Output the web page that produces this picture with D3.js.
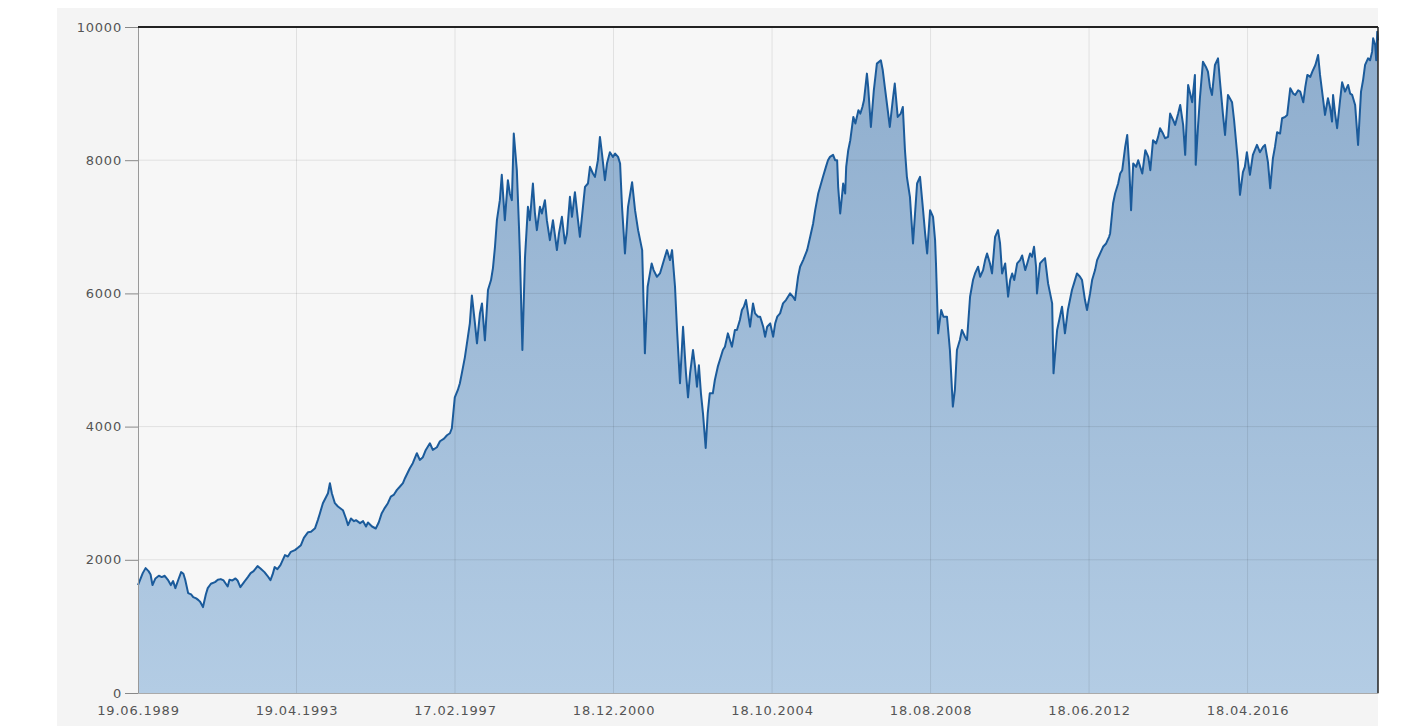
<!DOCTYPE html>
<html>
<head>
<meta charset="utf-8">
<script src="https://cdn.jsdelivr.net/npm/d3@7"></script>
<style>
  body { margin: 0; background: #fff; }
  .axis text { font-family: "DejaVu Sans", Verdana, sans-serif; font-size: 13px; fill: #555; letter-spacing: 0.8px; }
</style>
</head>
<body>
<div class="graph"></div>
<script>
// index closes (date, value)
var idx1989 = [
  ["1989-06-19",1620],["1989-07-31",1800],["1989-08-25",1875],["1989-09-20",1830],["1989-10-08",1780],["1989-10-25",1620],["1989-11-20",1720],["1989-12-20",1760],
  ["1990-01-15",1740],["1990-02-10",1760],["1990-03-10",1700],["1990-04-05",1620],["1990-04-25",1680],["1990-05-15",1575],["1990-06-10",1700],["1990-07-05",1815],["1990-07-25",1790],["1990-08-10",1700],["1990-09-05",1500],["1990-10-01",1480],["1990-10-20",1440],["1990-11-15",1420],["1990-12-05",1395],["1990-12-20",1370],
  ["1991-01-14",1290],["1991-02-08",1480],["1991-02-25",1575],["1991-03-25",1640],["1991-04-30",1665],["1991-05-25",1700],["1991-06-20",1710],["1991-07-15",1690],["1991-08-20",1600],["1991-09-05",1700],["1991-10-01",1690],["1991-10-28",1720],["1991-11-15",1690],["1991-12-10",1590],
  ["1992-01-10",1660],["1992-01-27",1700],["1992-02-14",1740],["1992-03-10",1800],["1992-04-05",1830],["1992-05-10",1905],["1992-06-05",1870],["1992-07-10",1815],["1992-08-05",1760],["1992-09-01",1695],["1992-09-20",1780],["1992-10-08",1890],["1992-11-01",1860],["1992-11-28",1920],
  ["1993-01-07",2070],["1993-02-02",2050],["1993-02-28",2120],["1993-04-05",2145],["1993-05-01",2180],["1993-05-28",2220],["1993-06-23",2330],["1993-07-30",2415],["1993-08-25",2420],["1993-09-30",2475],["1993-10-25",2600],["1993-11-12",2700],["1993-12-08",2850]
];
var idx1994 = [
  ["1994-01-04",2940],["1994-01-22",3000],["1994-02-08",3150],["1994-02-25",3000],["1994-03-24",2850],["1994-04-20",2800],["1994-06-03",2745],["1994-06-30",2620],["1994-07-18",2520],["1994-08-13",2620],["1994-09-09",2580],["1994-09-26",2595],["1994-11-01",2550],["1994-11-28",2580],["1994-12-24",2500],
  ["1995-01-10",2560],["1995-02-15",2500],["1995-03-20",2470],["1995-04-15",2560],["1995-05-12",2700],["1995-06-08",2780],["1995-07-05",2850],["1995-07-31",2950],["1995-08-28",2980],["1995-09-23",3050],["1995-10-20",3100],["1995-11-15",3150],["1995-12-03",3225],
  ["1996-01-15",3375],["1996-02-10",3450],["1996-03-17",3600],["1996-04-12",3500],["1996-05-09",3540],["1996-06-04",3650],["1996-07-10",3750],["1996-08-05",3650],["1996-09-10",3690],["1996-10-07",3780],["1996-11-12",3820],["1996-12-08",3870],
  ["1997-01-03",3900],["1997-01-20",3975],["1997-02-15",4440],["1997-03-14",4550],["1997-04-01",4650],["1997-04-18",4800],["1997-05-15",5040],["1997-06-10",5340],["1997-06-28",5550],["1997-07-16",5970],["1997-08-12",5550],["1997-08-30",5250],["1997-09-25",5700],["1997-10-13",5850],["1997-11-08",5295],["1997-12-05",6050],
  ["1998-01-01",6200],["1998-01-18",6380],["1998-02-05",6700],["1998-02-22",7100],["1998-03-20",7400],["1998-04-06",7780],["1998-05-03",7100],["1998-05-30",7700],["1998-06-16",7500],["1998-07-04",7400],["1998-07-21",8400],["1998-08-17",7850],["1998-09-05",7000],["1998-09-13",6600],["1998-10-05",5150],["1998-10-28",6540],["1998-11-23",7300],["1998-12-10",7100]
];
var idx1999 = [
  ["1999-01-06",7650],["1999-01-24",7200],["1999-02-10",6950],["1999-03-09",7300],["1999-03-26",7200],["1999-04-22",7400],["1999-05-09",7100],["1999-06-05",6800],["1999-07-02",7100],["1999-08-06",6650],["1999-08-24",6900],["1999-09-19",7150],["1999-10-16",6750],["1999-11-03",6900],["1999-11-29",7450],["1999-12-17",7150],
  ["2000-01-12",7520],["2000-02-08",7100],["2000-02-25",6850],["2000-03-23",7300],["2000-04-10",7600],["2000-05-06",7650],["2000-05-24",7900],["2000-06-19",7800],["2000-07-07",7750],["2000-08-02",8000],["2000-08-20",8350],["2000-09-07",8100],["2000-10-03",7700],["2000-10-21",7950],["2000-11-16",8120],["2000-12-13",8050],
  ["2001-01-01",8100],["2001-01-27",8050],["2001-02-14",7950],["2001-03-03",7300],["2001-03-29",6600],["2001-04-25",7300],["2001-05-31",7670],["2001-06-26",7250],["2001-07-23",6950],["2001-08-28",6650],["2001-09-21",5100],["2001-10-15",6100],["2001-11-20",6450],["2001-12-07",6350],
  ["2002-01-05",6250],["2002-02-01",6300],["2002-02-19",6400],["2002-03-17",6550],["2002-04-04",6650],["2002-05-01",6500],["2002-05-19",6650],["2002-06-14",6100],["2002-07-02",5450],["2002-07-28",4650],["2002-08-24",5500],["2002-09-19",4800],["2002-10-07",4440],["2002-10-25",4800],["2002-11-20",5150],["2002-12-08",4900],["2002-12-25",4600],
  ["2003-01-11",4920],["2003-01-29",4500],["2003-02-16",4200],["2003-03-12",3680],["2003-03-30",4200],["2003-04-17",4500],["2003-05-14",4500],["2003-06-01",4700],["2003-06-27",4900],["2003-07-15",5000],["2003-08-11",5150],["2003-08-29",5200],["2003-09-24",5400],["2003-10-12",5300],["2003-10-30",5200],["2003-11-25",5450],["2003-12-13",5450]
];
var idx2004 = [
  ["2004-01-08",5600],["2004-01-26",5750],["2004-02-12",5800],["2004-03-02",5900],["2004-03-20",5700],["2004-04-07",5500],["2004-05-03",5850],["2004-05-21",5700],["2004-06-17",5650],["2004-07-05",5650],["2004-08-01",5500],["2004-08-18",5350],["2004-09-05",5500],["2004-10-02",5550],["2004-10-28",5350],["2004-11-15",5550],["2004-12-03",5650],["2004-12-28",5700],
  ["2005-01-23",5850],["2005-02-18",5900],["2005-03-26",6000],["2005-04-21",5950],["2005-05-09",5900],["2005-06-05",6250],["2005-06-23",6400],["2005-07-20",6500],["2005-08-24",6650],["2005-09-20",6850],["2005-10-16",7050],["2005-11-03",7250],["2005-11-30",7500],["2005-12-17",7600],
  ["2006-01-11",7750],["2006-02-06",7900],["2006-02-24",8000],["2006-03-14",8050],["2006-04-10",8080],["2006-04-28",8000],["2006-05-16",8000],["2006-05-25",7600],["2006-06-12",7200],["2006-06-30",7500],["2006-07-08",7650],["2006-07-26",7500],["2006-08-04",7900],["2006-08-22",8150],["2006-09-09",8300],["2006-10-06",8650],["2006-10-24",8550],["2006-11-20",8750],["2006-12-07",8700],["2006-12-25",8800],
  ["2007-01-08",8900],["2007-02-03",9300],["2007-02-14",9100],["2007-03-10",8500],["2007-04-05",9050],["2007-05-02",9450],["2007-06-06",9500],["2007-06-23",9350],["2007-07-11",9100],["2007-08-06",8750],["2007-08-24",8500],["2007-09-19",8900],["2007-10-07",9150],["2007-11-02",8650],["2007-11-29",8700],["2007-12-17",8800],
  ["2008-01-05",8150],["2008-01-22",7750],["2008-02-18",7450],["2008-03-16",6750],["2008-04-03",7200],["2008-04-21",7650],["2008-05-17",7750],["2008-06-13",7250],["2008-07-01",6900],["2008-07-19",6600],["2008-08-14",7250],["2008-09-09",7150],["2008-09-27",6800],["2008-10-05",6450],["2008-10-24",5400],["2008-11-20",5750],["2008-12-10",5650]
];
var idx2009 = [
  ["2009-01-10",5650],["2009-02-05",5150],["2009-03-03",4300],["2009-03-21",4550],["2009-04-08",5150],["2009-05-04",5300],["2009-05-22",5450],["2009-06-18",5350],["2009-07-06",5300],["2009-08-02",5950],["2009-08-28",6200],["2009-09-15",6300],["2009-10-12",6400],["2009-10-30",6250],["2009-11-25",6350],["2009-12-13",6500],["2009-12-30",6600],
  ["2010-01-25",6450],["2010-02-12",6300],["2010-03-11",6850],["2010-04-06",6950],["2010-04-24",6750],["2010-05-12",6300],["2010-06-08",6450],["2010-07-04",5950],["2010-07-22",6200],["2010-08-09",6300],["2010-08-27",6200],["2010-09-22",6450],["2010-10-18",6500],["2010-11-05",6570],["2010-12-02",6350],["2010-12-20",6450],
  ["2011-01-14",6600],["2011-01-31",6550],["2011-02-18",6700],["2011-03-08",6400],["2011-03-16",6000],["2011-04-12",6450],["2011-05-08",6500],["2011-05-26",6530],["2011-06-22",6150],["2011-07-10",6000],["2011-07-28",5850],["2011-08-09",4800],["2011-09-10",5450],["2011-10-23",5800],["2011-11-18",5400],["2011-12-14",5750],
  ["2012-01-19",6050],["2012-02-06",6150],["2012-03-03",6300],["2012-03-30",6250],["2012-04-17",6200],["2012-05-13",5900],["2012-05-31",5750],["2012-06-27",6000],["2012-07-15",6200],["2012-08-10",6350],["2012-08-28",6500],["2012-09-24",6600],["2012-10-20",6700],["2012-11-16",6750],["2012-12-12",6850],["2012-12-21",6900],
  ["2013-01-16",7350],["2013-02-03",7500],["2013-03-02",7650],["2013-03-20",7800],["2013-04-07",7850],["2013-05-03",8200],["2013-05-21",8380],["2013-06-08",7900],["2013-06-24",7250],["2013-07-13",7950],["2013-08-08",7900],["2013-08-26",8000],["2013-10-01",7800],["2013-10-28",8150],["2013-11-23",8050],["2013-12-11",7850]
];
var idx2014 = [
  ["2014-01-04",8300],["2014-01-31",8250],["2014-02-18",8350],["2014-03-07",8480],["2014-04-02",8400],["2014-04-20",8330],["2014-05-17",8350],["2014-06-04",8700],["2014-07-01",8600],["2014-07-18",8530],["2014-08-14",8700],["2014-09-01",8830],["2014-09-27",8530],["2014-10-15",8080],["2014-11-10",9130],["2014-11-28",9000],["2014-12-16",8870],
  ["2015-01-09",9280],["2015-01-16",7930],["2015-02-05",8500],["2015-02-22",8930],["2015-03-21",9480],["2015-04-16",9400],["2015-05-04",9330],["2015-05-22",9100],["2015-06-09",8980],["2015-07-05",9430],["2015-08-01",9530],["2015-08-19",9170],["2015-09-14",8680],["2015-10-02",8380],["2015-10-28",8980],["2015-12-03",8870],["2015-12-21",8600],
  ["2016-01-24",7970],["2016-02-11",7480],["2016-03-08",7820],["2016-03-25",7900],["2016-04-12",8120],["2016-05-09",7780],["2016-06-04",8080],["2016-07-10",8230],["2016-08-05",8120],["2016-09-01",8200],["2016-09-19",8230],["2016-10-15",7970],["2016-11-04",7580],["2016-11-28",8030],["2016-12-16",8200],
  ["2017-01-04",8420],["2017-01-30",8400],["2017-02-17",8630],["2017-03-16",8650],["2017-04-03",8680],["2017-04-30",9080],["2017-05-26",9000],["2017-06-13",8980],["2017-07-09",9050],["2017-07-27",9030],["2017-08-23",8870],["2017-09-10",9100],["2017-09-28",9280],["2017-10-24",9250],["2017-11-11",9330],["2017-12-08",9430],
  ["2018-01-01",9580],["2018-01-18",9280],["2018-02-13",8930],["2018-03-03",8680],["2018-03-29",8930],["2018-04-16",8800],["2018-05-04",8580],["2018-05-13",8980],["2018-05-31",8700],["2018-06-18",8480],["2018-07-14",8900],["2018-08-01",9170],["2018-08-27",9030],["2018-09-23",9130],["2018-10-11",9000],["2018-10-29",8980],["2018-11-24",8830],["2018-12-20",8230],
  ["2019-01-15",9030],["2019-02-02",9200],["2019-02-20",9430],["2019-03-18",9530],["2019-04-05",9500],["2019-04-23",9630],["2019-05-02",9830],["2019-05-20",9730],["2019-05-29",9500],["2019-06-07",9930],["2019-06-14",9800]
];

var xTickLabels = ['19.06.1989', '19.04.1993', '17.02.1997', '18.12.2000', '18.10.2004', '18.08.2008', '18.06.2012', '18.04.2016'];
var yTickValues = [0, 2000, 4000, 6000, 8000, 10000];
var xStart = '1989-06-19', xEnd = '2019-06-14';

var parseIso = d3.timeParse('%Y-%m-%d');
var parseTick = d3.timeParse('%d.%m.%Y');

var data = idx1989.concat(idx1994, idx1999, idx2004, idx2009, idx2014).map(function(d) {
  return { date: parseIso(d[0]), value: d[1] };
});

var margin = {top: 27, right: 30, bottom: 33, left: 138},
    width = 1408 - margin.left - margin.right,
    height = 726 - margin.top - margin.bottom;

var svg = d3.select('.graph').append('svg')
    .attr('width', 1408)
    .attr('height', 726);

// outer light panel
svg.append('rect')
    .attr('x', 57).attr('y', 8)
    .attr('width', margin.left + width - 57).attr('height', 726 - 8)
    .attr('fill', '#f4f4f4');

var defs = svg.append('defs');
var grad = defs.append('linearGradient')
    .attr('id', 'fillGrad')
    .attr('x1', 0).attr('y1', 0).attr('x2', 0).attr('y2', 1);
grad.append('stop').attr('offset', '0%').attr('stop-color', '#8eadcd');
grad.append('stop').attr('offset', '100%').attr('stop-color', '#b3cce4');

var g = svg.append('g')
    .attr('transform', 'translate(' + margin.left + ',' + margin.top + ')');

var x = d3.scaleTime()
    .domain([parseIso(xStart), parseIso(xEnd)])
    .range([0, width]);

var y = d3.scaleLinear()
    .domain([0, 10000])
    .range([height, 0]);

g.append('rect')
    .attr('width', width).attr('height', height)
    .attr('fill', '#f7f7f7');

var area = d3.area()
    .x(function(d) { return x(d.date); })
    .y0(height)
    .y1(function(d) { return y(d.value); });

var line = d3.line()
    .x(function(d) { return x(d.date); })
    .y(function(d) { return y(d.value); });

g.append('path')
    .datum(data)
    .attr('d', area)
    .attr('fill', 'url(#fillGrad)');

// grid on top, faint
var xTicks = xTickLabels.map(function(s) { return parseTick(s); });

g.append('g')
    .selectAll('line.vgrid')
    .data(xTicks.slice(1))
    .enter().append('line')
    .attr('x1', function(d) { return x(d); })
    .attr('x2', function(d) { return x(d); })
    .attr('y1', 0).attr('y2', height)
    .attr('stroke', '#000').attr('stroke-opacity', 0.09);

g.append('g')
    .selectAll('line.hgrid')
    .data(yTickValues.slice(1, -1))
    .enter().append('line')
    .attr('x1', 0).attr('x2', width)
    .attr('y1', function(d) { return y(d); })
    .attr('y2', function(d) { return y(d); })
    .attr('stroke', '#000').attr('stroke-opacity', 0.09);

g.append('path')
    .datum(data)
    .attr('d', line)
    .attr('fill', 'none')
    .attr('stroke', '#1b5b9b')
    .attr('stroke-width', 2)
    .attr('stroke-linejoin', 'round');

// axes
var yAxis = d3.axisLeft(y)
    .tickValues(yTickValues)
    .tickSize(13)
    .tickPadding(3)
    .tickFormat(d3.format('d'));

var yg = g.append('g').attr('class', 'axis y').call(yAxis);
yg.select('.domain').attr('stroke', '#999');
yg.selectAll('.tick line').attr('stroke', '#888');

var xAxis = d3.axisBottom(x)
    .tickValues(xTicks)
    .tickSize(0)
    .tickPadding(13)
    .tickFormat(d3.timeFormat('%d.%m.%Y'));

var xg = g.append('g').attr('class', 'axis x')
    .attr('transform', 'translate(0,' + height + ')')
    .call(xAxis);
xg.select('.domain').attr('stroke', '#aaa');

// dark frame top and right
g.append('line').attr('x1', 0).attr('x2', width).attr('y1', 0).attr('y2', 0)
    .attr('stroke', '#222').attr('stroke-width', 2);
g.append('line').attr('x1', width).attr('x2', width).attr('y1', 0).attr('y2', height)
    .attr('stroke', '#222').attr('stroke-width', 1.5);
</script>
</body>
</html>
